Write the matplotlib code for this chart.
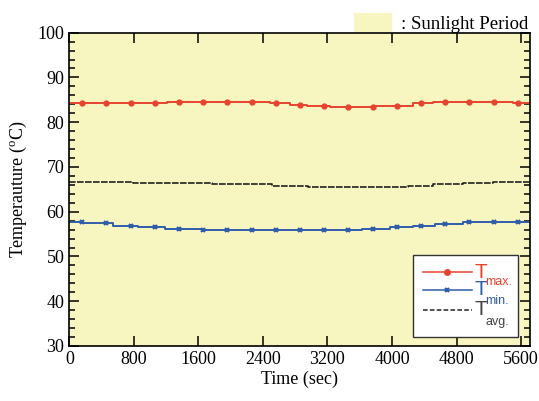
import matplotlib
matplotlib.use("Agg")
import matplotlib.pyplot as plt
from matplotlib.patches import Rectangle, Patch
from matplotlib.lines import Line2D
from matplotlib.ticker import MultipleLocator

# step data (time in sec, temperature in degC), held until next breakpoint
t_max = [0, 1211, 2487, 2735, 2946, 3231, 3763, 4259, 4507, 5499, 5710]
v_max = [84.2, 84.6, 84.2, 83.9, 83.7, 83.4, 83.7, 84.2, 84.6, 84.2, 84.2]

t_min = [0, 170, 543, 853, 1187, 1644, 3627, 3974, 4259, 4531, 4879, 5710]
v_min = [57.6, 57.4, 56.8, 56.5, 56.2, 55.9, 56.2, 56.5, 56.8, 57.3, 57.6, 57.6]

t_avg = [0, 791, 1771, 2512, 2958, 4197, 4507, 4879, 5250, 5710]
v_avg = [66.7, 66.4, 66.1, 65.8, 65.5, 65.8, 66.1, 66.4, 66.7, 66.7]

# marker positions
t_mark = [160, 460, 760, 1060, 1360, 1660, 1960, 2260, 2560, 2860,
          3160, 3460, 3760, 4060, 4360, 4660, 4960, 5260, 5560]
m_max = [84.2, 84.2, 84.2, 84.2, 84.6, 84.6, 84.6, 84.6, 84.2, 83.9,
         83.7, 83.4, 83.4, 83.7, 84.2, 84.6, 84.6, 84.6, 84.2]
m_min = [57.6, 57.4, 56.8, 56.5, 56.2, 55.9, 55.9, 55.9, 55.9, 55.9,
         55.9, 55.9, 56.2, 56.5, 56.8, 57.3, 57.6, 57.6, 57.6]

RED = "#E8432E"
BLUE = "#2F5DAA"
DARK = "#222222"
SUN = "#F7F5C0"

plt.rcParams["font.family"] = "Liberation Serif"
plt.rcParams["mathtext.fontset"] = "custom"
plt.rcParams["mathtext.rm"] = "Liberation Serif"

fig = plt.figure(figsize=(5.39, 4.01), dpi=100)
ax = fig.add_axes([0.1286, 0.1372, 0.8547, 0.7813])
ax.set_facecolor(SUN)

ax.step(t_max, v_max, where="post", color=RED, lw=1.4)
ax.plot(t_mark, m_max, "o", color=RED, ms=3.5)
ax.step(t_min, v_min, where="post", color=BLUE, lw=1.4)
ax.plot(t_mark, m_min, "x", color=BLUE, ms=3.5, mew=1.5)
ax.step(t_avg, v_avg, where="post", color=DARK, lw=1.2, ls=(0, (4, 0.8)))

ax.set_xlim(0, 5710)
ax.set_ylim(30, 100)
ax.xaxis.set_major_locator(MultipleLocator(800))
ax.yaxis.set_major_locator(MultipleLocator(10))
ax.yaxis.set_minor_locator(MultipleLocator(2))
ax.tick_params(which="both", direction="in", top=True, right=True, labelsize=13, width=1.1)
ax.tick_params(which="major", length=7)
ax.tick_params(which="minor", length=4)
for s in ax.spines.values():
    s.set_linewidth(1.2)

ax.set_xlabel("Time (sec)", fontsize=13, labelpad=2)
ax.set_ylabel("Temperauture ($^{\\rm o}$C)", fontsize=13, labelpad=6)

# legend box drawn by hand to keep the odd superscript layout
ax.add_patch(Rectangle((0.745, 0.028), 0.228, 0.262, transform=ax.transAxes,
                       facecolor="white", edgecolor="#333333", lw=1.0, zorder=5))
rows = [(0.235, RED, "-", "o", RED), (0.179, BLUE, "-", "x", BLUE),
        (0.115, DARK, (0, (3, 1.5)), None, "#444444")]
for y, c, ls, mk, tc in rows:
    ax.add_line(Line2D([0.768, 0.875], [y, y], transform=ax.transAxes, color=c, ls=ls,
                       lw=1.1, zorder=6))
    if mk:
        ax.add_line(Line2D([0.82], [y], transform=ax.transAxes, color=c, marker=mk,
                           ms=3.5, mew=1.5, zorder=6))
    ax.text(0.880, y, "T", transform=ax.transAxes, color=tc,
            fontsize=15, family="Liberation Sans", va="center", ha="left", zorder=7)
sub = [(0.205, RED, "max."), (0.144, BLUE, "min."), (0.078, "#444444", "avg.")]
for y, c, s in sub:
    ax.text(0.903, y, s, transform=ax.transAxes, color=c, fontsize=9,
            family="Liberation Sans", va="center", ha="left", zorder=7)

fig.legend(handles=[Patch(facecolor=SUN, edgecolor="none")], labels=[": Sunlight Period"],
           loc="upper right", bbox_to_anchor=(1.005, 1.0), frameon=False, fontsize=13.5,
           handlelength=2.0, handleheight=1.2, handletextpad=0.5, borderpad=0.2)

fig.savefig("out.png", dpi=100)
